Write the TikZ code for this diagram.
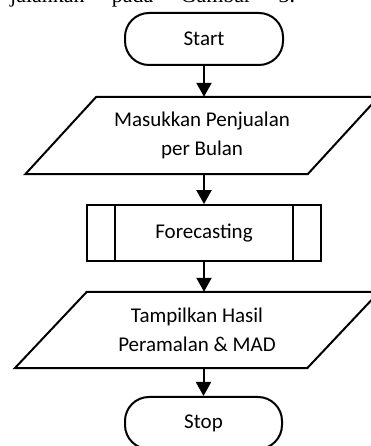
\documentclass[tikz,border=0pt]{standalone}
\usepackage{fontspec}
\setmainfont{Carlito}
\newfontfamily\timesf{Liberation Serif}
\usetikzlibrary{arrows.meta}
\tikzset{
  line/.style={line width=2pt},
  flowarrow/.style={line width=2pt,-{Triangle[length=14pt,width=15pt]}},
  terminal/.style={draw,line width=2pt,rounded corners=24pt,minimum width=158pt,minimum height=52pt,inner sep=0pt,font=\fontsize{21}{29}\selectfont},
  iotext/.style={inner sep=0pt,align=center,font=\fontsize{21}{29.5}\selectfont},
  procbox/.style={draw,line width=1.8pt,minimum width=234pt,minimum height=56pt,inner sep=0pt,font=\fontsize{21}{29}\selectfont}
}
\begin{document}
\begin{tikzpicture}[x=1pt,y=1pt]
\useasboundingbox (0,0) rectangle (371,446);
\clip (0,0) rectangle (371,446);
% cut-off text line above
\node[anchor=base west,inner sep=0pt,font=\timesf\fontsize{22}{26}\selectfont] (toptext) at (10,443.5) {\makebox[285pt][s]{jalankan pada Gambar 3.}};
% start
\node[terminal] (start) at (204,407) {Start};
% input
\node[iotext,minimum width=282pt,minimum height=77pt] (in1) at (202,310.5) {Masukkan Penjualan\\per Bulan};
\draw[line,line join=miter] ([xshift=35.5pt]in1.north west) -- ([xshift=35.5pt]in1.north east) -- ([xshift=-35.5pt]in1.south east) -- ([xshift=-35.5pt]in1.south west) -- cycle;
% process
\node[procbox] (proc) at (204,213) {Forecasting};
\draw[line width=1.8pt] ([xshift=29pt]proc.north west) -- ([xshift=29pt]proc.south west);
\draw[line width=1.8pt] ([xshift=-29pt]proc.north east) -- ([xshift=-29pt]proc.south east);
% output
\node[iotext,minimum width=292pt,minimum height=76pt] (out) at (197,116) {Tampilkan Hasil\\Peramalan \& MAD};
\draw[line,line join=miter] ([xshift=36pt]out.north west) -- ([xshift=36pt]out.north east) -- ([xshift=-36pt]out.south east) -- ([xshift=-36pt]out.south west) -- cycle;
% stop
\node[terminal,minimum width=157pt] (stop) at (203.5,23) {Stop};
% connectors
\draw[flowarrow] (start.south) -- (start.south |- in1.north);
\draw[flowarrow] (proc.north |- in1.south) -- (proc.north);
\draw[flowarrow] (proc.south) -- (proc.south |- out.north);
\draw[flowarrow] (stop.north |- out.south) -- (stop.north);
\end{tikzpicture}
\end{document}
